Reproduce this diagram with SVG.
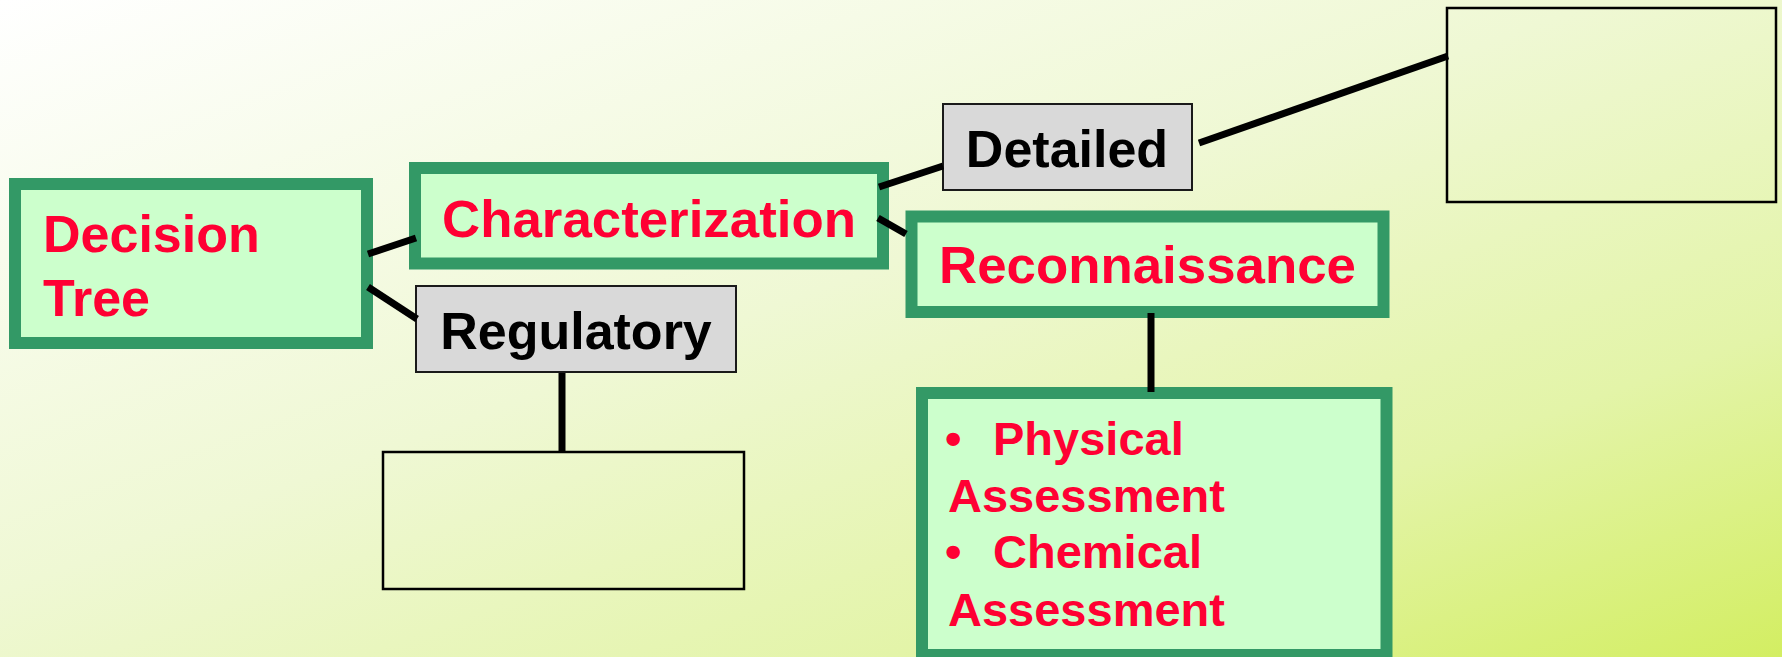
<svg xmlns="http://www.w3.org/2000/svg" width="1782" height="657" viewBox="0 0 1782 657">
  <defs>
    <linearGradient id="bg" x1="0" y1="0" x2="1" y2="1">
      <stop offset="0" stop-color="#ffffff"/>
      <stop offset="0.45" stop-color="#eff8d4"/>
      <stop offset="0.75" stop-color="#e3f4a8"/>
      <stop offset="1" stop-color="#d3ee62"/>
    </linearGradient>
  </defs>
  <style>
    .green { fill: #ccffcc; stroke: #339966; stroke-width: 12; }
    .gray { fill: #d9d9d9; stroke: #1a1a1a; stroke-width: 2; }
    .empty { fill: none; stroke: #000000; stroke-width: 2.5; }
    .red { font-family: "Liberation Sans", Arial, sans-serif; font-weight: bold; fill: #ff0033; }
    .black { font-family: "Liberation Sans", Arial, sans-serif; font-weight: bold; fill: #000000; }
    .conn line { stroke: #000000; stroke-width: 7; }
  </style>
  <rect x="0" y="0" width="1782" height="657" fill="url(#bg)"/>

  <g id="decision-tree">
    <rect class="green" x="15" y="184" width="352" height="159"/>
    <text class="red" font-size="52" x="43" y="252">Decision</text>
    <text class="red" font-size="52" x="43" y="316">Tree</text>
  </g>

  <g id="characterization">
    <rect class="green" x="415" y="168" width="468" height="95.5"/>
    <text class="red" font-size="52" x="649" y="237" text-anchor="middle" textLength="414" lengthAdjust="spacingAndGlyphs">Characterization</text>
  </g>

  <g id="detailed">
    <rect class="gray" x="943" y="104" width="249" height="86"/>
    <text class="black" font-size="52" x="1067" y="167" text-anchor="middle">Detailed</text>
  </g>

  <g id="detailed-target">
    <rect class="empty" x="1447" y="8" width="329" height="194"/>
  </g>

  <g id="reconnaissance">
    <rect class="green" x="911.5" y="216.5" width="472" height="95.5"/>
    <text class="red" font-size="52" x="1147.5" y="283" text-anchor="middle" textLength="417" lengthAdjust="spacingAndGlyphs">Reconnaissance</text>
  </g>

  <g id="regulatory">
    <rect class="gray" x="416" y="286" width="320" height="86"/>
    <text class="black" font-size="52" x="576" y="349" text-anchor="middle">Regulatory</text>
  </g>

  <g id="regulatory-target">
    <rect class="empty" x="383" y="452" width="361" height="137"/>
  </g>

  <g id="assessments">
    <rect class="green" x="922" y="393" width="464.5" height="262"/>
    <text class="red" font-size="47" x="945" y="455">•</text>
    <text class="red" font-size="47" x="993" y="455">Physical</text>
    <text class="red" font-size="47" x="948" y="512">Assessment</text>
    <text class="red" font-size="47" x="945" y="568">•</text>
    <text class="red" font-size="47" x="993" y="568">Chemical</text>
    <text class="red" font-size="47" x="948" y="626">Assessment</text>
  </g>

  <g id="connectors" class="conn">
    <line x1="368" y1="254" x2="416" y2="238"/>
    <line x1="368" y1="287" x2="417" y2="319"/>
    <line x1="879" y1="187" x2="943" y2="166"/>
    <line x1="878" y1="218" x2="906" y2="234"/>
    <line x1="1199" y1="143" x2="1448" y2="56"/>
    <line x1="562" y1="373" x2="562" y2="453"/>
    <line x1="1151" y1="313" x2="1151" y2="392"/>
  </g>
</svg>
